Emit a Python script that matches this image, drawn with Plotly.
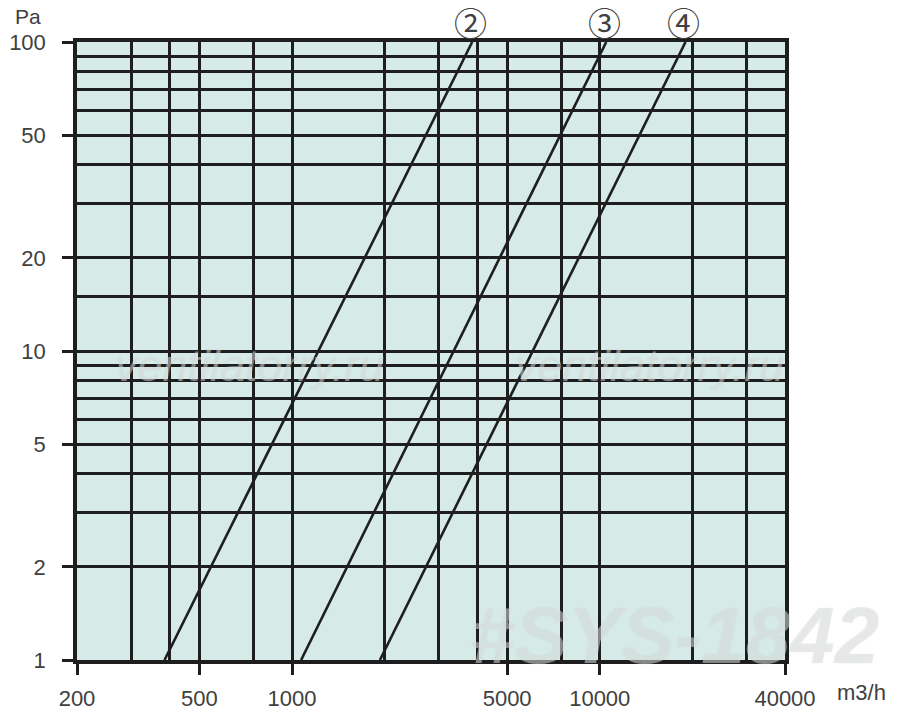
import math
import plotly.graph_objects as go

# pressure drop (Pa) at the ends of each straight curve, and flow (m3/h)
dp_ends = [1, 100]
curve_names = ["②", "③", "④"]
curve_flows = [
    [385, 3850],
    [1070, 10500],
    [1930, 19000],
]

# grid / ticks
x_labels = [200, 500, 1000, 5000, 10000, 40000]
x_grid = [200, 300, 400, 500, 750, 1000, 2000, 3000, 4000, 5000, 7500, 10000, 20000, 30000, 40000]
y_labels = [1, 2, 5, 10, 20, 50, 100]
y_grid = [1, 2, 3, 4, 5, 6, 7, 8, 9, 10, 15, 20, 30, 40, 50, 60, 70, 80, 90, 100]

ink = "#1e1e1e"
txt = "#404040"
bg = "#d6ebe8"
font = "Liberation Sans, Arial"

fig = go.Figure()

for name, flows in zip(curve_names, curve_flows):
    fig.add_trace(go.Scatter(x=flows, y=dp_ends, mode="lines",
                             line=dict(color=ink, width=2.6), name=name, showlegend=False))

    # circled curve number just above the top end of the line
    fig.add_annotation(text=name, x=math.log10(flows[1] * 0.985), y=1.033,
                       xref="x", yref="paper", xanchor="center", yanchor="middle",
                       showarrow=False,
                       font=dict(size=33, color=txt, family="Noto Sans CJK JP"))

axis_common = dict(
    type="log", showline=True, linecolor=ink, linewidth=3.5, mirror=True,
    ticks="outside", ticklen=11, tickwidth=3, tickcolor=ink,
    showgrid=False, zeroline=False, automargin=False,
    tickfont=dict(size=22, color=txt, family=font),
)

fig.update_xaxes(
    **axis_common,
    range=[2.30103, 4.60206],
    tickvals=x_labels, ticktext=[str(v) for v in x_labels],
    ticklabelstandoff=5,
    minor=dict(tickvals=x_grid, showgrid=True, gridcolor=ink, gridwidth=2.6, ticks=""),
)
fig.update_yaxes(
    **axis_common,
    range=[0, 2],
    tickvals=y_labels, ticktext=[str(v) for v in y_labels],
    ticklabelstandoff=12,
    minor=dict(tickvals=y_grid, showgrid=True, gridcolor=ink, gridwidth=2.6, ticks=""),
)

wm_font = dict(family=font, color="rgba(255,255,255,0.35)",
               shadow="0px 0px 1px #8f9b99", style="italic")
fig.add_annotation(text="ventilatorry.ru", x=0.244, y=0.477, xref="paper", yref="paper",
                   xanchor="center", yanchor="middle", showarrow=False,
                   font=dict(size=45, **wm_font))
fig.add_annotation(text="ventilatorry.ru", x=0.809, y=0.477, xref="paper", yref="paper",
                   xanchor="center", yanchor="middle", showarrow=False,
                   font=dict(size=45, **wm_font))
fig.add_annotation(text="#SYS-1842", x=1.136, y=0.04, xref="paper", yref="paper",
                   xanchor="right", yanchor="middle", showarrow=False,
                   font=dict(size=80, weight="bold", **wm_font))

fig.add_annotation(text="Pa", x=-0.069, y=1.042, xref="paper", yref="paper",
                   xanchor="center", yanchor="middle", showarrow=False,
                   font=dict(size=21, color=txt, family=font))
fig.add_annotation(text="m3/h", x=1.07, y=-0.052, xref="paper", yref="paper",
                   xanchor="left", yanchor="middle", showarrow=False,
                   font=dict(size=22, color=txt, family=font))

fig.update_layout(
    width=900, height=718,
    margin=dict(l=69, r=123, t=34, b=66),
    plot_bgcolor=bg, paper_bgcolor="white",
)

fig.write_html("out.html")
